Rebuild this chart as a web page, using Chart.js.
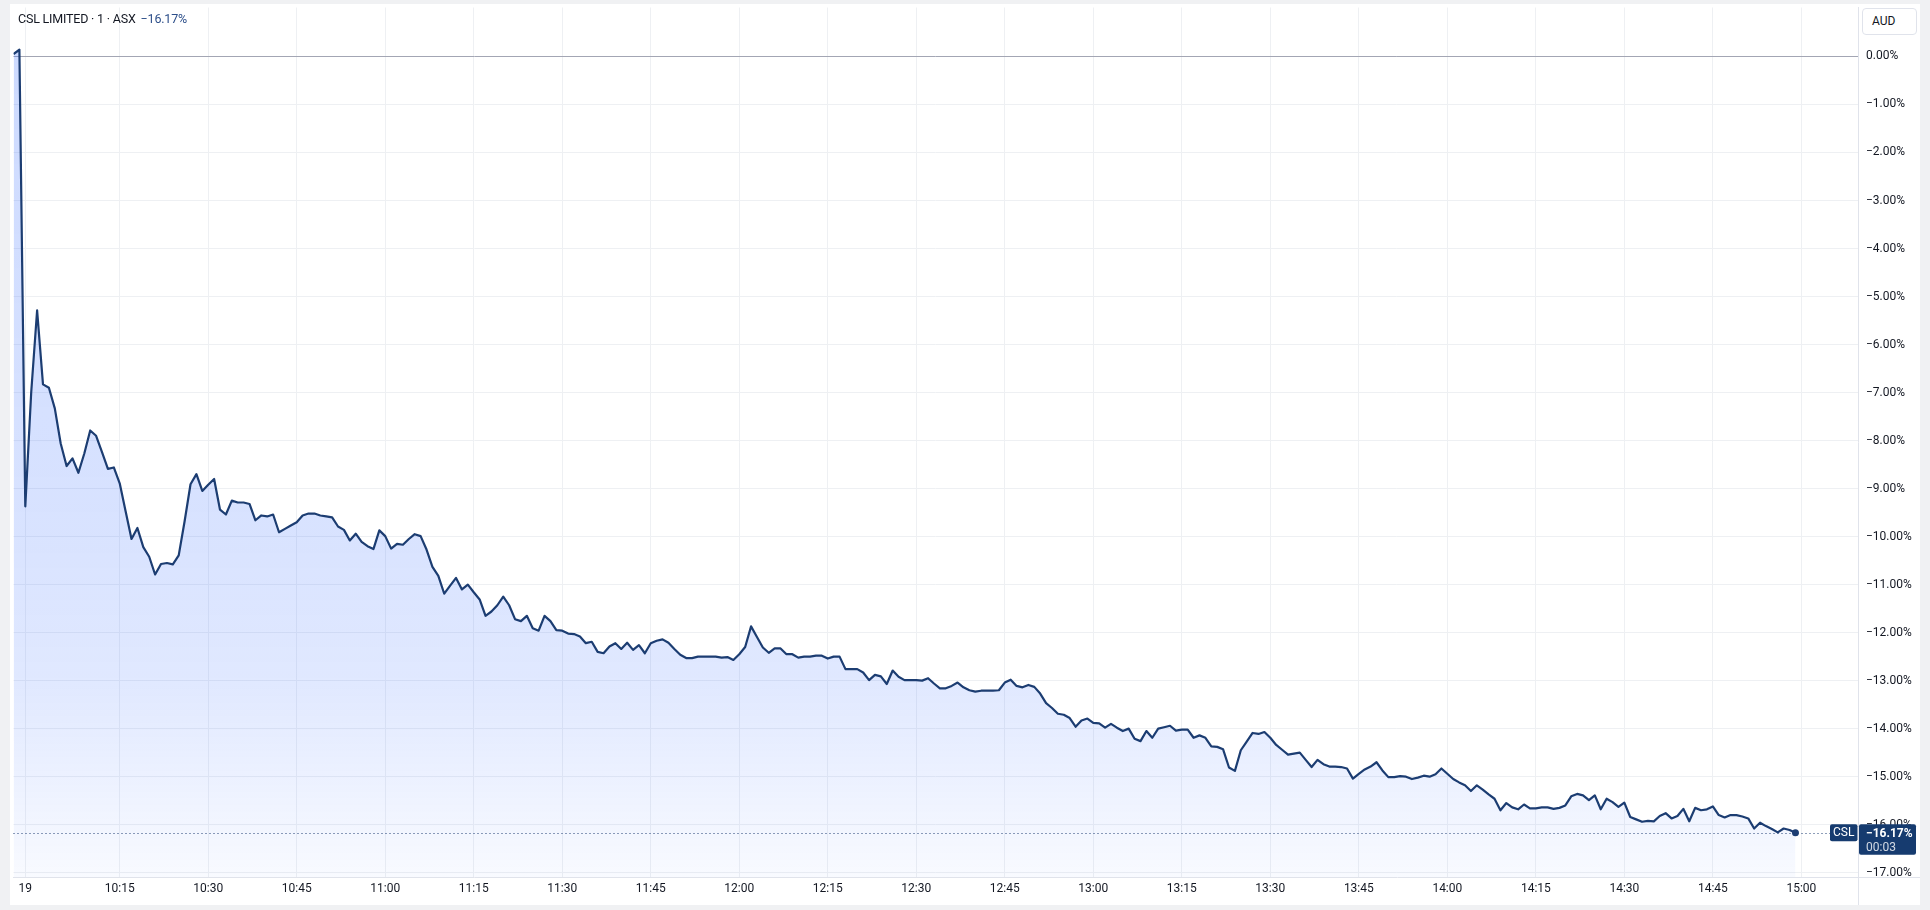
<!DOCTYPE html>
<html>
<head>
<meta charset="utf-8">
<title>CSL LIMITED · 1 · ASX</title>
<script src="https://cdn.jsdelivr.net/npm/chart.js@4.4.1/dist/chart.umd.min.js"></script>
<style>
  html, body { margin: 0; padding: 0; background: #f0f1f3; }
  body { width: 1930px; height: 910px; position: relative; overflow: hidden; font-family: Roboto, "Noto Sans", sans-serif; }
  #panel { position: absolute; left: 10px; top: 4px; width: 1910px; height: 901px; background: #fff; }
  #wrap { position: absolute; left: 0; top: 0; width: 1910px; height: 901px; }
  #chart { display: block; width: 1910px; height: 901px; }
  #legend { position: absolute; left: 8px; top: 7px; font-size: 12.5px; line-height: 16px; color: #131722; white-space: nowrap; letter-spacing: -0.2px; }
  #legend .chg { color: #2d4f8a; margin-left: 5px; }
  #aud { position: absolute; left: 1852px; top: 4px; width: 44px; height: 25px; padding-left: 9px; border: 1px solid #e0e3eb; border-radius: 4px; background: #fff; font-size: 12px; line-height: 25px; color: #131722; }
</style>
</head>
<body>
<div id="panel">
  <div id="wrap"><canvas id="chart" width="1910" height="901"></canvas></div>
  <div id="legend">CSL LIMITED · 1 · ASX<span class="chg">−16.17%</span></div>
  <div id="aud">AUD</div>
</div>
<script>
// 1-minute bars, x = minutes after 10:00 (session on the 19th), y = % change
const startMinute = -3;
const pctChange = [
  0.05, 0.14, -9.37, -7.0, -5.29, -6.83, -6.9, -7.33, -8.06, -8.53,
  -8.37, -8.67, -8.27, -7.79, -7.9, -8.24, -8.59, -8.56, -8.89, -9.47,
  -10.05, -9.82, -10.22, -10.42, -10.79, -10.57, -10.55, -10.58, -10.39, -9.68,
  -8.91, -8.70, -9.05, -8.92, -8.80, -9.44, -9.54, -9.25, -9.29, -9.29,
  -9.32, -9.66, -9.56, -9.58, -9.54, -9.91, -9.84, -9.77, -9.70, -9.56,
  -9.52, -9.52, -9.56, -9.58, -9.60, -9.79, -9.86, -10.08, -9.94, -10.11,
  -10.20, -10.26, -9.87, -9.99, -10.25, -10.15, -10.17, -10.05, -9.95, -9.99,
  -10.27, -10.63, -10.82, -11.19, -11.02, -10.86, -11.10, -11.00, -11.16, -11.31,
  -11.65, -11.56, -11.43, -11.25, -11.43, -11.72, -11.76, -11.65, -11.91, -11.96,
  -11.65, -11.76, -11.95, -11.96, -12.02, -12.03, -12.08, -12.22, -12.19, -12.40,
  -12.43, -12.29, -12.22, -12.34, -12.21, -12.36, -12.26, -12.43, -12.22, -12.17,
  -12.14, -12.21, -12.34, -12.46, -12.53, -12.53, -12.50, -12.50, -12.50, -12.50,
  -12.52, -12.51, -12.57, -12.45, -12.30, -11.87, -12.09, -12.31, -12.42, -12.33,
  -12.33, -12.45, -12.45, -12.52, -12.50, -12.50, -12.48, -12.48, -12.54, -12.50,
  -12.50, -12.76, -12.76, -12.76, -12.83, -12.99, -12.88, -12.91, -13.07, -12.79,
  -12.92, -12.99, -12.99, -12.99, -13.00, -12.95, -13.06, -13.16, -13.16, -13.11,
  -13.04, -13.14, -13.20, -13.23, -13.21, -13.21, -13.21, -13.20, -13.04, -12.98,
  -13.11, -13.14, -13.09, -13.13, -13.27, -13.47, -13.57, -13.69, -13.71, -13.78,
  -13.96, -13.83, -13.79, -13.88, -13.89, -13.98, -13.90, -13.98, -14.05, -14.00,
  -14.21, -14.26, -14.05, -14.19, -14.00, -13.97, -13.94, -14.04, -14.02, -14.02,
  -14.19, -14.14, -14.19, -14.37, -14.38, -14.43, -14.81, -14.88, -14.45, -14.27,
  -14.09, -14.11, -14.07, -14.19, -14.34, -14.44, -14.54, -14.52, -14.50, -14.65,
  -14.80, -14.65, -14.74, -14.79, -14.79, -14.80, -14.83, -15.04, -14.94, -14.85,
  -14.79, -14.70, -14.87, -15.01, -15.01, -14.99, -15.00, -15.05, -15.02, -14.98,
  -15.00, -14.95, -14.83, -14.94, -15.05, -15.12, -15.18, -15.30, -15.18, -15.27,
  -15.37, -15.46, -15.70, -15.55, -15.64, -15.68, -15.58, -15.66, -15.66, -15.64,
  -15.64, -15.67, -15.65, -15.60, -15.41, -15.36, -15.39, -15.49, -15.39, -15.68,
  -15.46, -15.53, -15.63, -15.54, -15.84, -15.89, -15.94, -15.92, -15.93, -15.82,
  -15.76, -15.87, -15.82, -15.67, -15.93, -15.65, -15.70, -15.68, -15.62, -15.80,
  -15.85, -15.80, -15.80, -15.83, -15.87, -16.08, -15.96, -16.03, -16.09, -16.16,
  -16.08, -16.11, -16.17,
];

const timeTicks = [-1, 15, 30, 45, 60, 75, 90, 105, 120, 135, 150, 165, 180, 195, 210, 225, 240, 255, 270, 285, 300];
const timeLabels = ["19", "10:15", "10:30", "10:45", "11:00", "11:15", "11:30", "11:45", "12:00", "12:15", "12:30",
  "12:45", "13:00", "13:15", "13:30", "13:45", "14:00", "14:15", "14:30", "14:45", "15:00"];
const pctTicks = [0, -1, -2, -3, -4, -5, -6, -7, -8, -9, -10, -11, -12, -13, -14, -15, -16, -17];

const SYMBOL = "CSL";
const LAST_TIME = "00:03";
const LINE = "#1c3d72";
const TAG = "#163b6f";
const GRID = "#eef0f3";
const AXIS_LINE = "#e0e3eb";

const fmtPct = (v) => (v < 0 ? "\u2212" : "") + Math.abs(v).toFixed(2) + "%";
const lastIdx = pctChange.length - 1;
const points = pctChange.map((v, i) => ({ x: startMinute + i, y: v }));

Chart.defaults.font.family = "Roboto, 'Noto Sans', sans-serif";
Chart.defaults.font.size = 12;
Chart.defaults.color = "#131722";

// dotted last-price line, price tag and axis corner lines
const overlay = {
  id: "overlay",
  afterDatasetsDraw(chart) {
    const { ctx, chartArea: ca } = chart;
    const py = Math.round(chart.scales.y.getPixelForValue(pctChange[lastIdx])) + 0.5;
    ctx.save();
    ctx.strokeStyle = LINE;
    ctx.lineWidth = 1;
    ctx.setLineDash([1, 3]);
    ctx.beginPath();
    ctx.moveTo(ca.left, py);
    ctx.lineTo(ca.right - 28, py);
    ctx.stroke();
    ctx.restore();
  },
  afterDraw(chart) {
    const { ctx, chartArea: ca } = chart;
    const py = chart.scales.y.getPixelForValue(pctChange[lastIdx]);
    ctx.save();
    ctx.strokeStyle = AXIS_LINE;
    ctx.lineWidth = 1;
    ctx.beginPath();
    ctx.moveTo(ca.right, ca.bottom + 0.5);
    ctx.lineTo(chart.width, ca.bottom + 0.5);
    ctx.moveTo(ca.right + 0.5, ca.bottom);
    ctx.lineTo(ca.right + 0.5, chart.height);
    ctx.stroke();

    // symbol tag
    ctx.fillStyle = TAG;
    ctx.beginPath();
    ctx.roundRect(ca.right - 28, py - 8.5, 27.5, 17, 2);
    ctx.fill();
    // price tag
    ctx.beginPath();
    ctx.roundRect(ca.right + 1, py - 8.5, 57, 30.5, 2);
    ctx.fill();

    ctx.fillStyle = "#fff";
    ctx.textBaseline = "middle";
    ctx.textAlign = "center";
    ctx.font = "12px Roboto, sans-serif";
    ctx.fillText(SYMBOL, ca.right - 14.3, py + 0.5);
    ctx.textAlign = "left";
    ctx.font = "bold 12px Roboto, sans-serif";
    ctx.fillText(fmtPct(pctChange[lastIdx]), ca.right + 8, py + 1);
    ctx.font = "12px Roboto, sans-serif";
    ctx.fillStyle = "rgba(255,255,255,0.8)";
    ctx.fillText(LAST_TIME, ca.right + 8, py + 15);
    ctx.restore();
  },
};

new Chart(document.getElementById("chart"), {
  type: "line",
  data: {
    datasets: [{
      data: points,
      borderColor: LINE,
      borderWidth: 2.2,
      borderJoinStyle: "round",
      tension: 0,
      fill: "start",
      backgroundColor: (c) => {
        const ca = c.chart.chartArea;
        if (!ca) return "rgba(41,98,255,0.15)";
        const g = c.chart.ctx.createLinearGradient(0, ca.top, 0, ca.bottom);
        g.addColorStop(0, "rgba(41,98,255,0.24)");
        g.addColorStop(0.6, "rgba(41,98,255,0.18)");
        g.addColorStop(0.78, "rgba(41,98,255,0.14)");
        g.addColorStop(1, "rgba(41,98,255,0.03)");
        return g;
      },
      pointRadius: (c) => (c.dataIndex === lastIdx ? 3.5 : 0),
      pointHoverRadius: 0,
      pointBackgroundColor: LINE,
      pointBorderWidth: 0,
    }],
  },
  options: {
    responsive: false,
    maintainAspectRatio: false,
    animation: false,
    layout: { padding: 0 },
    plugins: { legend: { display: false }, tooltip: { enabled: false } },
    scales: {
      x: {
        type: "linear",
        min: -3,
        max: 309.6,
        afterBuildTicks: (s) => { s.ticks = timeTicks.map((v) => ({ value: v })); },
        afterFit: (s) => { s.height = 28; s.paddingLeft = 0; s.paddingRight = 0; },
        ticks: {
          autoSkip: false,
          maxRotation: 0,
          padding: 5,
          callback: (v) => timeLabels[timeTicks.indexOf(v)],
        },
        grid: { color: GRID, drawTicks: false },
        border: { color: AXIS_LINE },
      },
      y: {
        position: "right",
        min: -17.09,
        max: 1.02,
        afterBuildTicks: (s) => { s.ticks = pctTicks.map((v) => ({ value: v })); },
        afterFit: (s) => { s.width = 62; s.paddingTop = 0; s.paddingBottom = 0; },
        ticks: { autoSkip: false, padding: 8, callback: (v) => fmtPct(v) },
        grid: {
          color: (c) => (c.tick && c.tick.value === 0 ? "#a3a6b4" : GRID),
          drawTicks: false,
        },
        border: { color: AXIS_LINE },
      },
    },
  },
  plugins: [overlay],
});
</script>
</body>
</html>
